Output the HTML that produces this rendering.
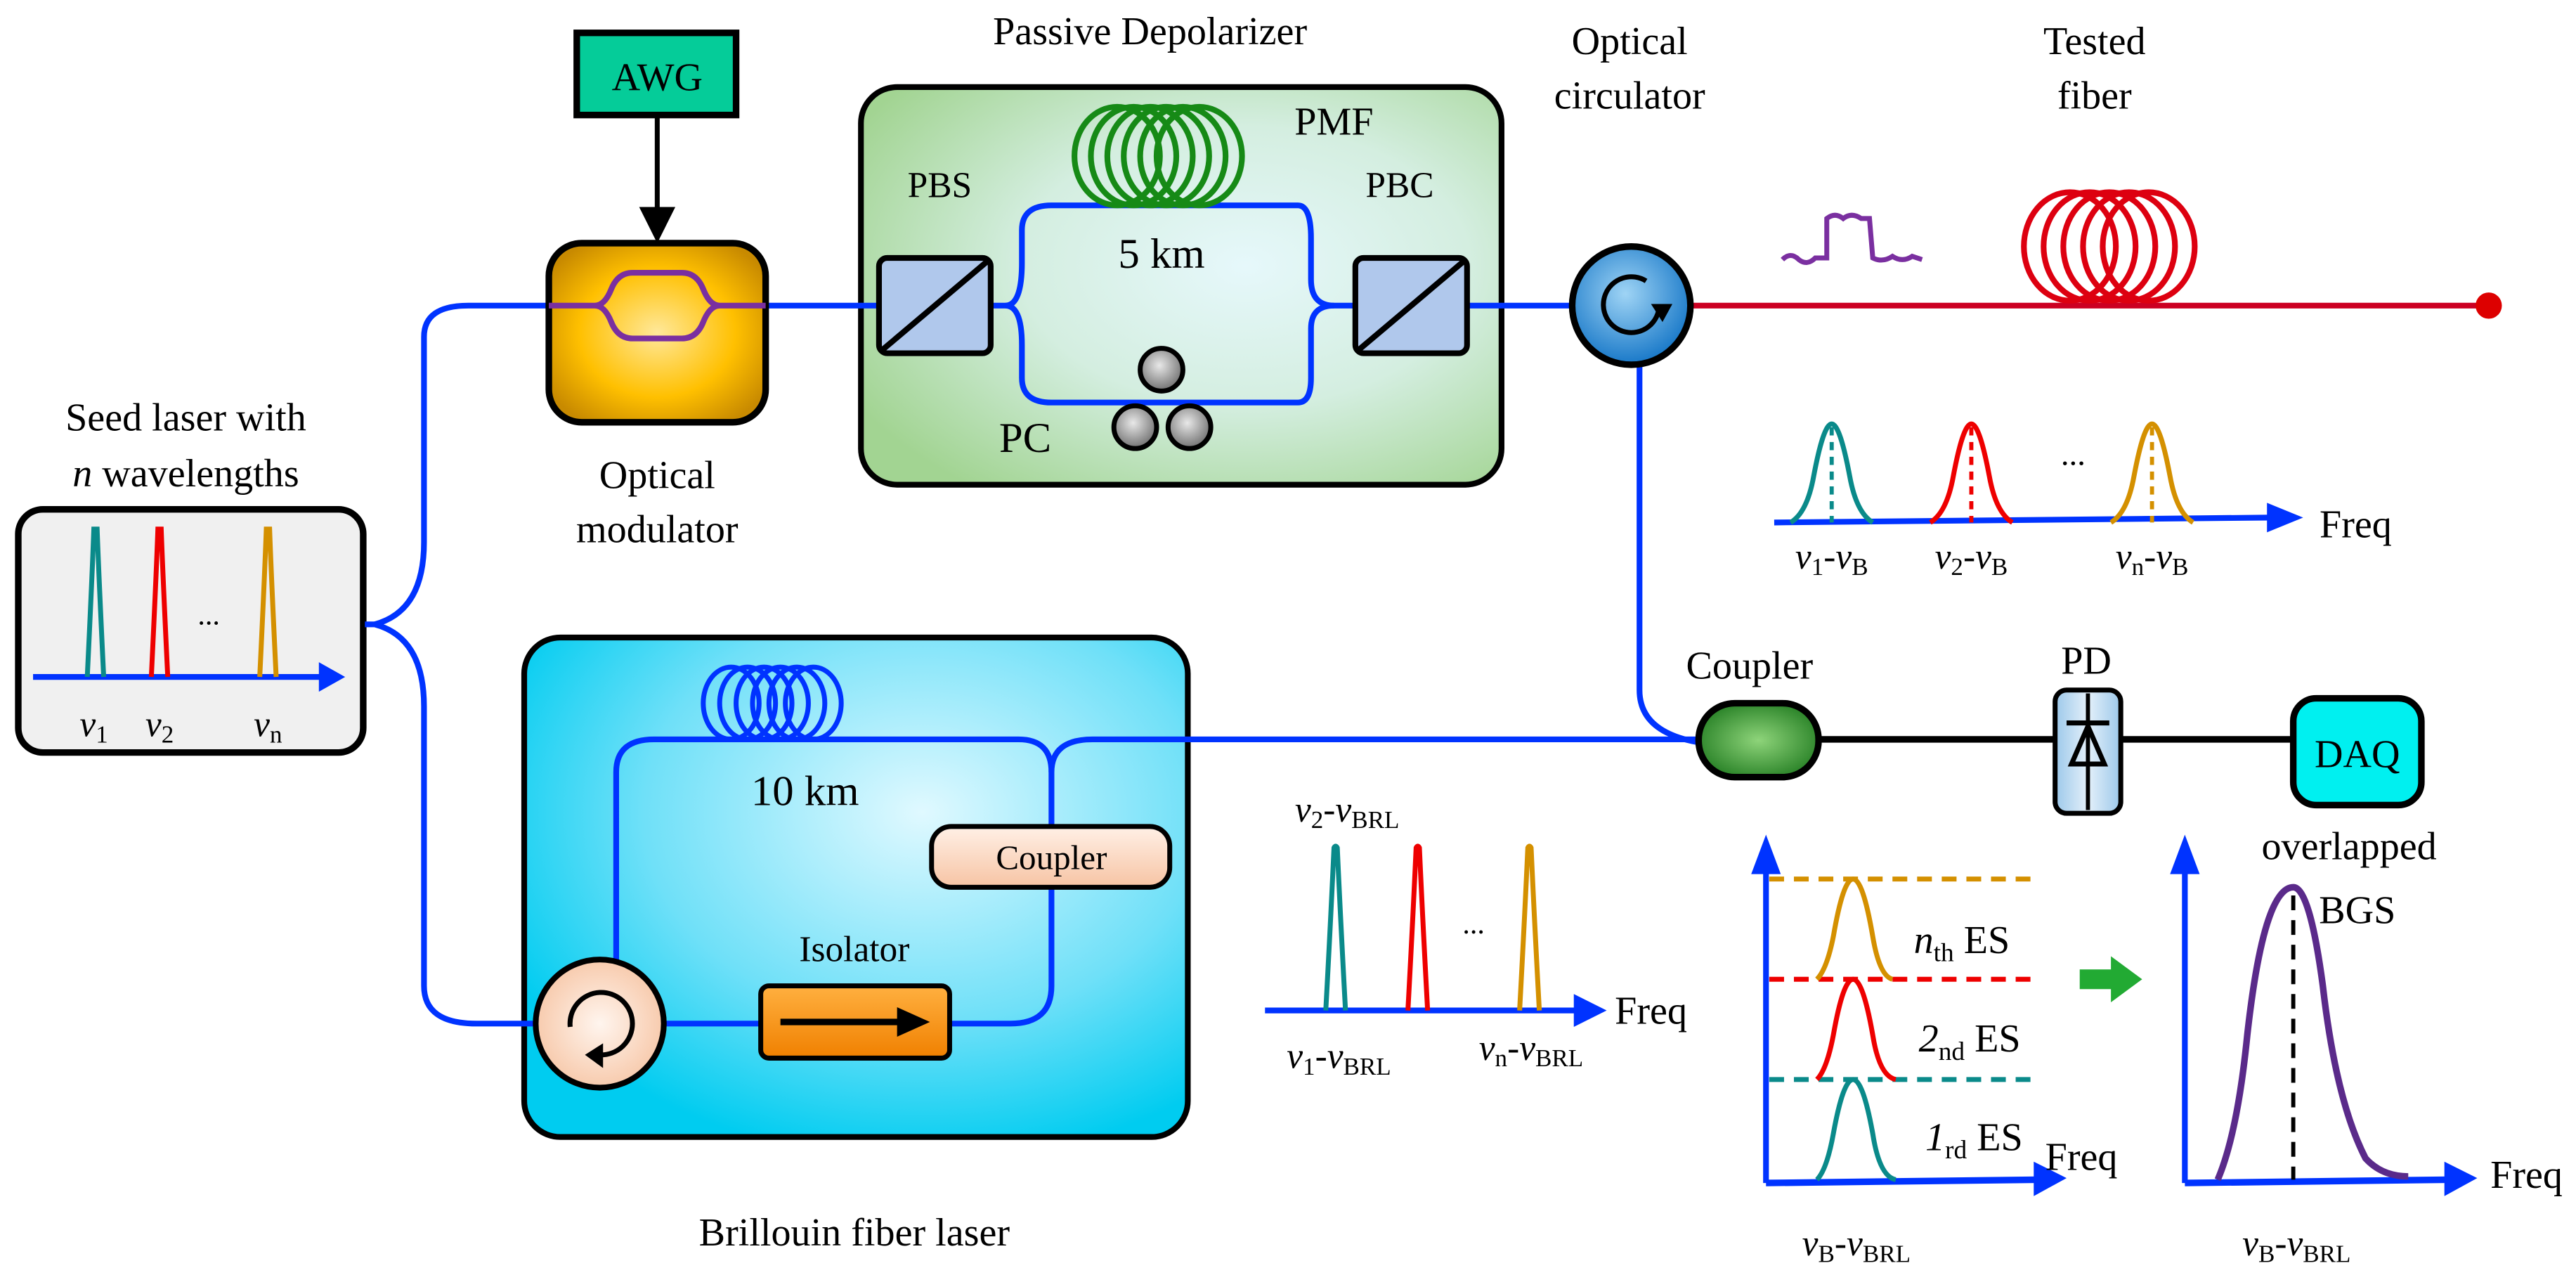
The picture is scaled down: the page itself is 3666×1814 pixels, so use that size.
<!DOCTYPE html>
<html><head><meta charset="utf-8"><style>
html,body{margin:0;padding:0;background:#fff;}
svg{display:block;}
text{font-family:"Liberation Serif",serif;fill:#000;}
</style></head><body>
<svg width="3666" height="1814" viewBox="0 0 1568 776" xmlns="http://www.w3.org/2000/svg">
<defs>
<radialGradient id="gmod" cx="50%" cy="50%" r="60%"><stop offset="0" stop-color="#ffe89a"/><stop offset="0.6" stop-color="#ffc000"/><stop offset="1" stop-color="#c88a00"/></radialGradient>
<radialGradient id="gdep" cx="60%" cy="45%" r="70%"><stop offset="0" stop-color="#e6f8fb"/><stop offset="0.5" stop-color="#d4eee0"/><stop offset="1" stop-color="#a2d492"/></radialGradient>
<radialGradient id="gbfl" cx="60%" cy="35%" r="70%"><stop offset="0" stop-color="#e0f9ff"/><stop offset="0.6" stop-color="#6fe0f8"/><stop offset="1" stop-color="#00ccf0"/></radialGradient>
<radialGradient id="gcirc" cx="45%" cy="40%" r="60%"><stop offset="0" stop-color="#9fd4f5"/><stop offset="1" stop-color="#1878c8"/></radialGradient>
<radialGradient id="gcirc2" cx="50%" cy="50%" r="60%"><stop offset="0" stop-color="#fff5ee"/><stop offset="1" stop-color="#f6c2a0"/></radialGradient>
<radialGradient id="gcoup" cx="50%" cy="50%" r="60%"><stop offset="0" stop-color="#8ed47a"/><stop offset="1" stop-color="#1f7a1f"/></radialGradient>
<radialGradient id="gpc" cx="45%" cy="40%" r="60%"><stop offset="0" stop-color="#e8e8e8"/><stop offset="1" stop-color="#707070"/></radialGradient>
<linearGradient id="gpd" x1="0" x2="1"><stop offset="0" stop-color="#9cc8ea"/><stop offset="0.5" stop-color="#e4f0fa"/><stop offset="1" stop-color="#9cc8ea"/></linearGradient>
<linearGradient id="giso" x1="0" y1="0" x2="0" y2="1"><stop offset="0" stop-color="#ffb040"/><stop offset="1" stop-color="#f08000"/></linearGradient>
<linearGradient id="gcp" x1="0" y1="0" x2="0" y2="1"><stop offset="0" stop-color="#fff0e6"/><stop offset="1" stop-color="#f7c4a4"/></linearGradient>
</defs>

<!-- Titles -->
<text x="700" y="27" font-size="24" text-anchor="middle">Passive Depolarizer</text>
<text x="992" y="33" font-size="24" text-anchor="middle">Optical</text>
<text x="992" y="66" font-size="24" text-anchor="middle">circulator</text>
<text x="1275" y="33" font-size="24" text-anchor="middle">Tested</text>
<text x="1275" y="66" font-size="24" text-anchor="middle">fiber</text>
<text x="113" y="262" font-size="24" text-anchor="middle">Seed laser with</text>
<text x="113" y="296" font-size="24" text-anchor="middle"><tspan font-style="italic">n</tspan> wavelengths</text>
<text x="400" y="297" font-size="24" text-anchor="middle">Optical</text>
<text x="400" y="330" font-size="24" text-anchor="middle">modulator</text>
<text x="520" y="758" font-size="24" text-anchor="middle">Brillouin fiber laser</text>

<!-- AWG -->
<rect x="351" y="20" width="97" height="50" fill="#05cc99" stroke="#000" stroke-width="4"/>
<text x="400" y="55" font-size="24" text-anchor="middle">AWG</text>
<line x1="400" y1="70" x2="400" y2="128" stroke="#000" stroke-width="3"/>
<polygon points="389,126 411,126 400,148" fill="#000"/>

<!-- Depolarizer box -->
<rect x="524" y="53" width="390" height="242" rx="22" fill="url(#gdep)" stroke="#000" stroke-width="3.5"/>

<!-- Blue fibers top -->
<path d="M228,380 Q258,372 258,330 L258,205 Q258,186 285,186 L333,186" fill="none" stroke="#0033ff" stroke-width="3.5"/>
<line x1="466" y1="186" x2="535" y2="186" stroke="#0033ff" stroke-width="3.5"/>
<path d="M603,186 L612,186 Q622,186 622,160 L622,140 Q622,125 640,125 L790,125 Q798,125 798,145 L798,170 Q798,186 812,186 L825,186" fill="none" stroke="#0033ff" stroke-width="3.5"/>
<path d="M612,186 Q622,186 622,210 L622,230 Q622,245 640,245 L790,245 Q798,245 798,230 L798,200 Q798,186 812,186" fill="none" stroke="#0033ff" stroke-width="3.5"/>
<line x1="893" y1="186" x2="958" y2="186" stroke="#0033ff" stroke-width="3.5"/>

<!-- Modulator -->
<rect x="334" y="148" width="132" height="109" rx="20" fill="url(#gmod)" stroke="#000" stroke-width="4"/>
<path d="M334,186 L362,186 Q368,186 372,176 Q376,166 385,166 L415,166 Q424,166 428,176 Q432,186 438,186 L466,186 M362,186 Q368,186 372,196 Q376,206 385,206 L415,206 Q424,206 428,196 Q432,186 438,186" fill="none" stroke="#7a2fa0" stroke-width="3.5"/>

<!-- PBS / PBC -->
<rect x="535" y="157" width="68" height="58" rx="5" fill="#b0c8ec" stroke="#000" stroke-width="3.5"/>
<line x1="537" y1="213" x2="601" y2="159" stroke="#000" stroke-width="3.5"/>
<rect x="825" y="157" width="68" height="58" rx="5" fill="#b0c8ec" stroke="#000" stroke-width="3.5"/>
<line x1="827" y1="213" x2="891" y2="159" stroke="#000" stroke-width="3.5"/>
<text x="572" y="120" font-size="22" text-anchor="middle">PBS</text>
<text x="852" y="120" font-size="22" text-anchor="middle">PBC</text>

<!-- PMF coil -->
<g fill="none" stroke="#168a16" stroke-width="3.5">
<ellipse cx="680" cy="95" rx="26" ry="30"/>
<ellipse cx="690" cy="95" rx="26" ry="30"/>
<ellipse cx="700" cy="95" rx="26" ry="30"/>
<ellipse cx="710" cy="95" rx="26" ry="30"/>
<ellipse cx="720" cy="95" rx="26" ry="30"/>
<ellipse cx="730" cy="95" rx="26" ry="30"/>
</g>
<text x="812" y="82" font-size="24" text-anchor="middle">PMF</text>
<text x="707" y="163" font-size="26" text-anchor="middle">5 km</text>
<!-- PC -->
<circle cx="707" cy="225" r="13" fill="url(#gpc)" stroke="#000" stroke-width="3"/>
<circle cx="691" cy="260" r="13" fill="url(#gpc)" stroke="#000" stroke-width="3"/>
<circle cx="724" cy="260" r="13" fill="url(#gpc)" stroke="#000" stroke-width="3"/>
<text x="624" y="275" font-size="26" text-anchor="middle">PC</text>

<!-- Optical circulator & tested fiber -->
<line x1="1028" y1="186" x2="1515" y2="186" stroke="#cc0022" stroke-width="3.5"/>
<circle cx="1515" cy="186" r="8" fill="#dd0000"/>
<path d="M998,220 L998,420 Q998,446 1035,452" fill="none" stroke="#0033ff" stroke-width="3.5"/>
<circle cx="993" cy="186" r="36" fill="url(#gcirc)" stroke="#000" stroke-width="4"/>
<path d="M1010,186 A17,17 0 1 1 1002,171" fill="none" stroke="#000" stroke-width="3"/>
<polygon points="1005,185 1018,185 1012,196" fill="#000"/>
<!-- pulse -->
<path d="M1085,158 Q1090,153 1095,158 Q1100,162 1105,157 L1112,157 L1112,133 Q1117,129 1122,133 Q1127,129 1133,133 L1138,133 L1140,157 Q1146,160 1152,156 Q1158,160 1164,156 L1170,158" fill="none" stroke="#7a2fa0" stroke-width="3"/>
<!-- red coil -->
<g fill="none" stroke="#dd0010" stroke-width="3.5">
<ellipse cx="1260" cy="150" rx="28" ry="33"/>
<ellipse cx="1272" cy="150" rx="28" ry="33"/>
<ellipse cx="1284" cy="150" rx="28" ry="33"/>
<ellipse cx="1296" cy="150" rx="28" ry="33"/>
<ellipse cx="1308" cy="150" rx="28" ry="33"/>
</g>

<!-- spectrum 1 -->
<line x1="1080" y1="318" x2="1382" y2="315" stroke="#0033ff" stroke-width="3.5"/>
<polygon points="1380,306 1402,315 1380,324" fill="#0033ff"/>
<text x="1412" y="327" font-size="24">Freq</text>
<path d="M1090,318 Q1100,312 1104,290 Q1110,258 1115,258 Q1120,258 1126,290 Q1130,312 1140,318" fill="none" stroke="#0a8a8a" stroke-width="3"/>
<line x1="1115" y1="260" x2="1115" y2="318" stroke="#0a8a8a" stroke-width="2.5" stroke-dasharray="5,4"/>
<path d="M1175,318 Q1185,312 1189,290 Q1195,258 1200,258 Q1205,258 1211,290 Q1215,312 1225,318" fill="none" stroke="#ee0000" stroke-width="3"/>
<line x1="1200" y1="260" x2="1200" y2="318" stroke="#ee0000" stroke-width="2.5" stroke-dasharray="5,4"/>
<path d="M1285,318 Q1295,312 1299,290 Q1305,258 1310,258 Q1315,258 1321,290 Q1325,312 1335,318" fill="none" stroke="#d49000" stroke-width="3"/>
<line x1="1310" y1="260" x2="1310" y2="318" stroke="#d49000" stroke-width="2.5" stroke-dasharray="5,4"/>
<text x="1262" y="283" font-size="20" text-anchor="middle">...</text>
<text x="1115" y="346" font-size="22" text-anchor="middle"><tspan font-style="italic">ν</tspan><tspan font-size="15" dy="4">1</tspan><tspan dy="-4">-</tspan><tspan font-style="italic">ν</tspan><tspan font-size="15" dy="4">B</tspan></text>
<text x="1200" y="346" font-size="22" text-anchor="middle"><tspan font-style="italic">ν</tspan><tspan font-size="15" dy="4">2</tspan><tspan dy="-4">-</tspan><tspan font-style="italic">ν</tspan><tspan font-size="15" dy="4">B</tspan></text>
<text x="1310" y="346" font-size="22" text-anchor="middle"><tspan font-style="italic">ν</tspan><tspan font-size="15" dy="4">n</tspan><tspan dy="-4">-</tspan><tspan font-style="italic">ν</tspan><tspan font-size="15" dy="4">B</tspan></text>

<!-- Seed laser box -->
<rect x="11" y="310" width="210" height="148" rx="15" fill="#f0f0f0" stroke="#000" stroke-width="4"/>
<line x1="20" y1="412" x2="196" y2="412" stroke="#0033ff" stroke-width="3.5"/>
<polygon points="194,403 210,412 194,421" fill="#0033ff"/>
<path d="M53,412 Q56,350 57,322 Q58,322 59,322 Q60,350 63,412" fill="none" stroke="#0a8a8a" stroke-width="3"/>
<path d="M92,412 Q95,350 96,322 Q97,322 98,322 Q99,350 102,412" fill="none" stroke="#ee0000" stroke-width="3"/>
<path d="M158,412 Q161,350 162,322 Q163,322 164,322 Q165,350 168,412" fill="none" stroke="#d49000" stroke-width="3"/>
<text x="127" y="380" font-size="18" text-anchor="middle">...</text>
<text x="57" y="448" font-size="22" text-anchor="middle"><tspan font-style="italic">ν</tspan><tspan font-size="15" dy="4">1</tspan></text>
<text x="97" y="448" font-size="22" text-anchor="middle"><tspan font-style="italic">ν</tspan><tspan font-size="15" dy="4">2</tspan></text>
<text x="163" y="448" font-size="22" text-anchor="middle"><tspan font-style="italic">ν</tspan><tspan font-size="15" dy="4">n</tspan></text>

<!-- BFL box -->
<rect x="319" y="388" width="404" height="304" rx="22" fill="url(#gbfl)" stroke="#000" stroke-width="3.5"/>
<path d="M222,380 L228,380 Q258,388 258,430 L258,600 Q258,623 290,623 L326,623" fill="none" stroke="#0033ff" stroke-width="3.5"/>
<path d="M375,585 L375,470 Q375,450 398,450 L620,450 Q640,450 640,470 L640,600 Q640,623 615,623 L578,623" fill="none" stroke="#0033ff" stroke-width="3.5"/>
<path d="M640,470 Q640,450 665,450 L1035,450" fill="none" stroke="#0033ff" stroke-width="3.5"/>
<line x1="404" y1="623" x2="463" y2="623" stroke="#0033ff" stroke-width="3.5"/>
<g fill="none" stroke="#0033ff" stroke-width="3">
<ellipse cx="445" cy="428" rx="17" ry="22"/>
<ellipse cx="455" cy="428" rx="17" ry="22"/>
<ellipse cx="465" cy="428" rx="17" ry="22"/>
<ellipse cx="475" cy="428" rx="17" ry="22"/>
<ellipse cx="485" cy="428" rx="17" ry="22"/>
<ellipse cx="495" cy="428" rx="17" ry="22"/>
</g>
<text x="490" y="490" font-size="26" text-anchor="middle">10 km</text>
<rect x="567" y="503" width="145" height="37" rx="12" fill="url(#gcp)" stroke="#000" stroke-width="3"/>
<text x="640" y="529" font-size="21" text-anchor="middle" font-family="Liberation Sans">Coupler</text>
<text x="520" y="585" font-size="22" text-anchor="middle">Isolator</text>
<rect x="463" y="600" width="115" height="44" rx="5" fill="url(#giso)" stroke="#000" stroke-width="3"/>
<line x1="475" y1="622" x2="550" y2="622" stroke="#000" stroke-width="4"/>
<polygon points="546,613 566,622 546,631" fill="#000"/>
<circle cx="365" cy="623" r="39" fill="url(#gcirc2)" stroke="#000" stroke-width="3.5"/>
<path d="M347,625 A19,19 0 1 1 365,642" fill="none" stroke="#000" stroke-width="3"/>
<polygon points="367,635 367,650 356,642" fill="#000"/>

<!-- spectrum 2 -->
<line x1="770" y1="615" x2="960" y2="615" stroke="#0033ff" stroke-width="3.5"/>
<polygon points="958,605 978,615 958,625" fill="#0033ff"/>
<text x="983" y="623" font-size="24">Freq</text>
<path d="M807,615 Q810,560 812,516 Q813,514 814,516 Q816,560 819,615" fill="none" stroke="#0a8a8a" stroke-width="3"/>
<path d="M857,615 Q860,560 862,516 Q863,514 864,516 Q866,560 869,615" fill="none" stroke="#ee0000" stroke-width="3"/>
<path d="M925,615 Q928,560 930,516 Q931,514 932,516 Q934,560 937,615" fill="none" stroke="#d49000" stroke-width="3"/>
<text x="897" y="568" font-size="18" text-anchor="middle">...</text>
<text x="820" y="500" font-size="22" text-anchor="middle"><tspan font-style="italic">ν</tspan><tspan font-size="15" dy="4">2</tspan><tspan dy="-4">-</tspan><tspan font-style="italic">ν</tspan><tspan font-size="15" dy="4">BRL</tspan></text>
<text x="815" y="650" font-size="22" text-anchor="middle"><tspan font-style="italic">ν</tspan><tspan font-size="15" dy="4">1</tspan><tspan dy="-4">-</tspan><tspan font-style="italic">ν</tspan><tspan font-size="15" dy="4">BRL</tspan></text>
<text x="932" y="645" font-size="22" text-anchor="middle"><tspan font-style="italic">ν</tspan><tspan font-size="15" dy="4">n</tspan><tspan dy="-4">-</tspan><tspan font-style="italic">ν</tspan><tspan font-size="15" dy="4">BRL</tspan></text>

<!-- Coupler / PD / DAQ -->
<text x="1065" y="413" font-size="24" text-anchor="middle">Coupler</text>
<text x="1270" y="410" font-size="24" text-anchor="middle">PD</text>
<line x1="1107" y1="450" x2="1395" y2="450" stroke="#000" stroke-width="4"/>
<rect x="1034" y="428" width="73" height="45" rx="22" fill="url(#gcoup)" stroke="#000" stroke-width="4"/>
<rect x="1251" y="420" width="40" height="75" rx="7" fill="url(#gpd)" stroke="#000" stroke-width="3"/>
<line x1="1271" y1="422" x2="1271" y2="493" stroke="#000" stroke-width="2.5"/>
<line x1="1258" y1="440" x2="1284" y2="440" stroke="#000" stroke-width="3"/>
<polygon points="1271,442 1261,465 1281,465" fill="none" stroke="#000" stroke-width="3"/>
<rect x="1396" y="425" width="78" height="65" rx="14" fill="#00f0f0" stroke="#000" stroke-width="4"/>
<text x="1435" y="467" font-size="24" text-anchor="middle">DAQ</text>

<!-- ES chart -->
<line x1="1075" y1="530" x2="1075" y2="720" stroke="#0033ff" stroke-width="3.5"/>
<polygon points="1066,532 1075,508 1084,532" fill="#0033ff"/>
<line x1="1075" y1="720" x2="1240" y2="718" stroke="#0033ff" stroke-width="4"/>
<polygon points="1238,707 1258,717 1238,728" fill="#0033ff"/>
<text x="1245" y="712" font-size="24">Freq</text>
<line x1="1077" y1="535" x2="1240" y2="535" stroke="#d49000" stroke-width="3" stroke-dasharray="9,6"/>
<line x1="1077" y1="596" x2="1240" y2="596" stroke="#ee0000" stroke-width="3" stroke-dasharray="9,6"/>
<line x1="1077" y1="657" x2="1240" y2="657" stroke="#0a8a8a" stroke-width="3" stroke-dasharray="9,6"/>
<path d="M1106,596 Q1112,590 1116,570 Q1122,535 1128,535 Q1134,535 1140,570 Q1144,594 1152,596" fill="none" stroke="#d49000" stroke-width="3"/>
<path d="M1106,657 Q1112,651 1116,630 Q1122,596 1128,596 Q1134,596 1140,630 Q1144,655 1154,657" fill="none" stroke="#ee0000" stroke-width="3"/>
<path d="M1106,718 Q1112,712 1116,690 Q1122,657 1128,657 Q1134,657 1140,690 Q1144,716 1154,718" fill="none" stroke="#0a8a8a" stroke-width="3"/>
<text x="1165" y="580" font-size="24"><tspan font-style="italic">n</tspan><tspan font-size="16" dy="5">th</tspan><tspan dy="-5"> ES</tspan></text>
<text x="1168" y="640" font-size="24"><tspan font-style="italic">2</tspan><tspan font-size="16" dy="5">nd</tspan><tspan dy="-5"> ES</tspan></text>
<text x="1172" y="700" font-size="24"><tspan font-style="italic">1</tspan><tspan font-size="16" dy="5">rd</tspan><tspan dy="-5"> ES</tspan></text>
<text x="1130" y="764" font-size="22" text-anchor="middle"><tspan font-style="italic">ν</tspan><tspan font-size="15" dy="4">B</tspan><tspan dy="-4">-</tspan><tspan font-style="italic">ν</tspan><tspan font-size="15" dy="4">BRL</tspan></text>

<!-- green arrow -->
<polygon points="1266,590 1285,590 1285,582 1304,596 1285,610 1285,602 1266,602" fill="#22aa33"/>

<!-- BGS chart -->
<line x1="1330" y1="530" x2="1330" y2="720" stroke="#0033ff" stroke-width="3.5"/>
<polygon points="1321,532 1330,508 1339,532" fill="#0033ff"/>
<line x1="1330" y1="720" x2="1490" y2="718" stroke="#0033ff" stroke-width="4"/>
<polygon points="1488,707 1508,717 1488,728" fill="#0033ff"/>
<text x="1516" y="723" font-size="24">Freq</text>
<path d="M1350,718 Q1362,690 1368,630 Q1378,540 1396,540 Q1406,540 1414,600 Q1422,670 1440,705 Q1450,716 1466,716" fill="none" stroke="#5a2a8a" stroke-width="4"/>
<line x1="1396" y1="545" x2="1396" y2="718" stroke="#000" stroke-width="2.5" stroke-dasharray="9,6"/>
<text x="1430" y="523" font-size="24" text-anchor="middle">overlapped</text>
<text x="1435" y="562" font-size="24" text-anchor="middle">BGS</text>
<text x="1398" y="764" font-size="22" text-anchor="middle"><tspan font-style="italic">ν</tspan><tspan font-size="15" dy="4">B</tspan><tspan dy="-4">-</tspan><tspan font-style="italic">ν</tspan><tspan font-size="15" dy="4">BRL</tspan></text>
</svg>
</body></html>
